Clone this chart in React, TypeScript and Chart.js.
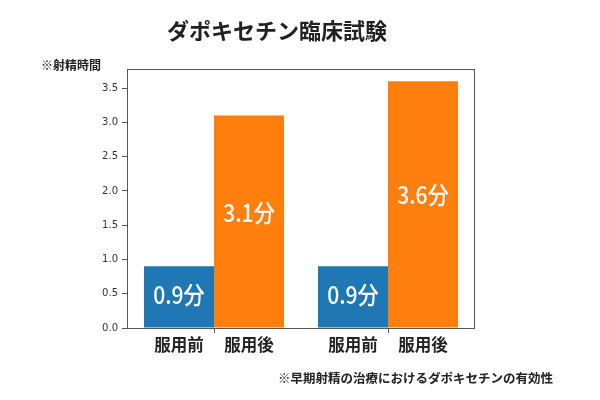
import React, { useEffect, useRef } from "react";
import { Chart, registerables } from "chart.js";
Chart.register(...registerables);

const groups = ["試験1", "試験2"];
const beforeValues = [0.9, 0.9];
const afterValues = [3.1, 3.6];
const barLabels = ["服用前", "服用後"];
const unit = "分";
const titleText = "ダポキセチン臨床試験";
const yAxisTitle = "※射精時間";
const footnote = "※早期射精の治療におけるダポキセチンの有効性";
const yTickValues = [0, 0.5, 1, 1.5, 2, 2.5, 3, 3.5];
const yMax = 3.78;

const JP = '"Noto Sans CJK JP", "Noto Sans", sans-serif';

const textPlugin = {
  id: "texts",
  afterDraw(chart: any) {
    const ctx = chart.ctx as CanvasRenderingContext2D;
    const { left, right, top, bottom } = chart.chartArea;
    ctx.save();
    // frame
    ctx.strokeStyle = "#555";
    ctx.lineWidth = 1;
    ctx.strokeRect(left + 0.5, top + 0.5, right - left - 1, bottom - top);

    // title
    ctx.fillStyle = "#222";
    ctx.textAlign = "center";
    ctx.textBaseline = "middle";
    ctx.font = `bold 22px ${JP}`;
    ctx.fillText(titleText, 277, 31);

    // y axis title
    ctx.textAlign = "left";
    ctx.font = `bold 12px ${JP}`;
    ctx.fillText(yAxisTitle, 41, 65);

    // footnote
    ctx.font = `bold 12.5px ${JP}`;
    ctx.fillText(footnote, 278, 378);

    // bar labels & value labels
    chart.data.datasets.forEach((ds: any, di: number) => {
      const meta = chart.getDatasetMeta(di);
      meta.data.forEach((el: any, i: number) => {
        const v = ds.data[i];
        // category label under bar
        ctx.fillStyle = "#222";
        ctx.textAlign = "center";
        ctx.font = `bold 16.5px ${JP}`;
        ctx.fillText(barLabels[di], el.x, bottom + 17);
        // value label
        const y = el.base - (el.base - el.y) * 0.54;
        ctx.save();
        ctx.translate(el.x, y);
        ctx.scale(0.88, 1);
        ctx.fillStyle = "#fff";
        ctx.font = `500 24px ${JP}`;
        ctx.fillText(v.toFixed(1) + unit, 0, 0);
        ctx.restore();
      });
    });
    ctx.restore();
  },
};

export default function App() {
  const ref = useRef<HTMLCanvasElement | null>(null);
  useEffect(() => {
    if (!ref.current) return;
    const chart = new Chart(ref.current, {
      type: "bar",
      data: {
        labels: groups,
        datasets: [
          {
            label: barLabels[0],
            data: beforeValues,
            backgroundColor: "#1f77b4",
            barPercentage: 1,
            categoryPercentage: 0.805,
          },
          {
            label: barLabels[1],
            data: afterValues,
            backgroundColor: "#ff7f0e",
            barPercentage: 1,
            categoryPercentage: 0.805,
          },
        ],
      },
      options: {
        responsive: false,
        animation: false,
        layout: { padding: { top: 69, right: 125, left: 0, bottom: 0 } },
        plugins: {
          legend: { display: false },
          tooltip: { enabled: false },
          title: { display: false },
        },
        scales: {
          x: {
            grid: {
              display: true,
              offset: false,
              drawOnChartArea: false,
              drawTicks: true,
              tickLength: 5,
              color: "#555",
            },
            border: { display: false },
            ticks: { display: false },
            afterFit: (s: any) => {
              s.height = 72;
            },
          },
          y: {
            min: 0,
            max: yMax,
            grid: {
              display: true,
              drawOnChartArea: false,
              drawTicks: true,
              tickLength: 5,
              color: "#555",
            },
            border: { display: false },
            afterBuildTicks: (s: any) => {
              s.ticks = yTickValues.map((v) => ({ value: v }));
            },
            ticks: {
              padding: 4,
              color: "#333",
              font: { family: '"DejaVu Sans", sans-serif', size: 10 },
              callback: (v: any) => Number(v).toFixed(1),
            },
            afterFit: (s: any) => {
              s.width = 127;
            },
          },
        },
      },
      plugins: [textPlugin],
    });
    return () => chart.destroy();
  }, []);
  return (
    <div style={{ position: "absolute", left: 0, top: 0, width: 600, height: 400, background: "#fff" }}>
      <canvas ref={ref} width={600} height={400} />
    </div>
  );
}
